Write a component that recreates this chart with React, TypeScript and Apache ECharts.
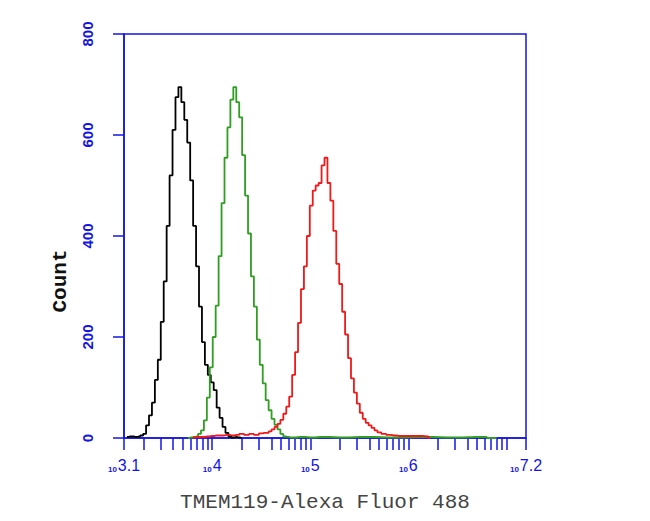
import React, { useEffect, useRef } from "react";
import * as echarts from "echarts";

// log10(fluorescence) bin positions and counts
const blackX = [3.13, 3.16, 3.19, 3.22, 3.25, 3.28, 3.31, 3.34, 3.37, 3.40, 3.43, 3.46, 3.49, 3.52, 3.55, 3.58, 3.61, 3.64, 3.67, 3.70, 3.73, 3.76, 3.79, 3.82, 3.85, 3.88, 3.91, 3.94, 3.97, 4.00, 4.03, 4.06, 4.09, 4.12, 4.15, 4.18, 4.21, 4.24, 4.27, 4.30];
const blackY = [2, 3, 3, 2, 3, 5, 8, 25, 45, 70, 115, 155, 230, 310, 420, 520, 610, 675, 695, 665, 630, 585, 510, 420, 340, 260, 190, 145, 125, 110, 95, 60, 40, 22, 10, 3, 1, 2, 1, 0];

const greenX = [3.75, 3.78, 3.81, 3.84, 3.87, 3.90, 3.93, 3.96, 3.99, 4.02, 4.05, 4.08, 4.11, 4.14, 4.17, 4.20, 4.23, 4.26, 4.29, 4.32, 4.35, 4.38, 4.41, 4.44, 4.47, 4.50, 4.53, 4.56, 4.59, 4.62, 4.65, 4.68, 4.71, 4.74, 4.77, 4.80, 4.90, 5.00, 5.10, 5.30, 5.50, 5.80, 6.10, 6.40, 6.70, 6.90];
const greenY = [0, 1, 2, 3, 8, 15, 35, 80, 140, 200, 262, 360, 465, 555, 615, 670, 695, 665, 635, 560, 480, 405, 320, 260, 195, 145, 108, 75, 55, 38, 26, 17, 8, 3, 2, 1, 2, 1, 2, 1, 2, 1, 2, 1, 2, 0];

const redX = [3.80, 3.85, 3.90, 3.95, 4.00, 4.05, 4.10, 4.15, 4.20, 4.25, 4.30, 4.35, 4.40, 4.45, 4.50, 4.53, 4.56, 4.59, 4.62, 4.65, 4.68, 4.71, 4.74, 4.77, 4.80, 4.83, 4.86, 4.89, 4.92, 4.95, 4.98, 5.01, 5.04, 5.07, 5.10, 5.13, 5.16, 5.19, 5.22, 5.25, 5.28, 5.31, 5.34, 5.37, 5.40, 5.43, 5.46, 5.49, 5.52, 5.55, 5.58, 5.61, 5.64, 5.67, 5.70, 5.75, 5.80, 5.85, 5.90, 6.00, 6.10, 6.19, 6.22];
const redY = [1, 2, 2, 3, 4, 5, 5, 6, 5, 6, 8, 6, 8, 6, 9, 10, 10, 13, 17, 22, 28, 36, 48, 62, 82, 125, 170, 228, 295, 340, 400, 460, 490, 500, 505, 540, 555, 505, 470, 410, 345, 305, 250, 205, 158, 118, 90, 68, 50, 38, 30, 25, 20, 15, 11, 8, 6, 5, 4, 4, 4, 3, 0];

const xLabelValues = [3.1, 4, 5, 6, 7.2];
const xLabelTexts = ["3.1", "4", "5", "6", "7.2"];
const tickDecades = [3, 4, 5, 6, 7];
const tickMultipliers = [1, 2, 3, 4, 5, 6, 7, 8, 9];

const BLUE = "#1414e6";

export default function App() {
  const ref = useRef<HTMLDivElement>(null);
  useEffect(() => {
    if (!ref.current) return;
    const chart = echarts.init(ref.current, null, { renderer: "svg" });
    const tickVals: number[] = [];
    for (const d of tickDecades) {
      for (const m of tickMultipliers) {
        const v = Math.log10(m * Math.pow(10, d));
        if (v >= 3.1 - 1e-9 && v <= 7.2 + 1e-9) tickVals.push(v);
      }
    }
    tickVals.push(3.1, 7.2);
    const mk = (xs: number[], ys: number[]) => xs.map((x, i) => [x, ys[i]]);
    chart.setOption({
      animation: false,
      backgroundColor: "#ffffff",
      grid: {
        left: 124, right: 124, top: 34, bottom: 83,
        show: true, borderColor: BLUE, borderWidth: 1.5, backgroundColor: "transparent",
      },
      xAxis: {
        type: "value", min: 3.1, max: 7.2,
        axisLine: { lineStyle: { color: BLUE, width: 1.5 } },
        axisTick: { show: true, length: 12, customValues: tickVals, lineStyle: { color: BLUE, width: 1.5 } },
        splitLine: { show: false },
        axisLabel: {
          customValues: xLabelValues,
          margin: 19,
          formatter: (v: number) => {
            const i = xLabelValues.findIndex((x) => Math.abs(x - v) < 1e-6);
            return "{b|10}{e|" + (i >= 0 ? xLabelTexts[i] : "") + "}";
          },
          rich: {
            b: { fontSize: 8, color: BLUE, fontFamily: "Liberation Sans", fontWeight: "bold", verticalAlign: "bottom", lineHeight: 16, padding: [0, 1, 0, 0] },
            e: { fontSize: 16, color: BLUE, fontFamily: "Liberation Sans", verticalAlign: "bottom", lineHeight: 16 },
          },
        },
        name: "TMEM119-Alexa Fluor 488",
        nameLocation: "middle",
        nameGap: 54,
        nameTextStyle: { fontFamily: "Liberation Mono", fontSize: 21, color: "#444444" },
      },
      yAxis: {
        type: "value", min: 0, max: 800, interval: 200,
        axisLine: { show: true, lineStyle: { color: BLUE, width: 1.5 } },
        axisTick: { show: true, length: 11, lineStyle: { color: BLUE, width: 1.5 } },
        splitLine: { show: false },
        axisLabel: { rotate: 90, margin: 29, fontSize: 15, color: BLUE, fontFamily: "Liberation Sans", fontWeight: "bold" },
      },
      graphic: [
        {
          type: "text", x: 60, y: 281, rotation: Math.PI / 2,
          style: { text: "Count", fontFamily: "Liberation Mono", fontSize: 21, fontWeight: "bold", fill: "#111", textAlign: "center", textVerticalAlign: "middle" },
        },
      ],
      series: [
        { type: "line", step: "middle", showSymbol: false, data: mk(blackX, blackY), lineStyle: { color: "#000000", width: 1.8 }, itemStyle: { color: "#000" } },
        { type: "line", step: "middle", showSymbol: false, data: mk(greenX, greenY), lineStyle: { color: "#2f9e22", width: 1.8 }, itemStyle: { color: "#2f9e22" } },
        { type: "line", step: "middle", showSymbol: false, data: mk(redX, redY), lineStyle: { color: "#f01818", width: 1.8 }, itemStyle: { color: "#f01818" } },
      ],
    });
    return () => chart.dispose();
  }, []);
  return <div ref={ref} style={{ position: "fixed", left: 0, top: 0, width: 650, height: 521, background: "#fff" }} />;
}
